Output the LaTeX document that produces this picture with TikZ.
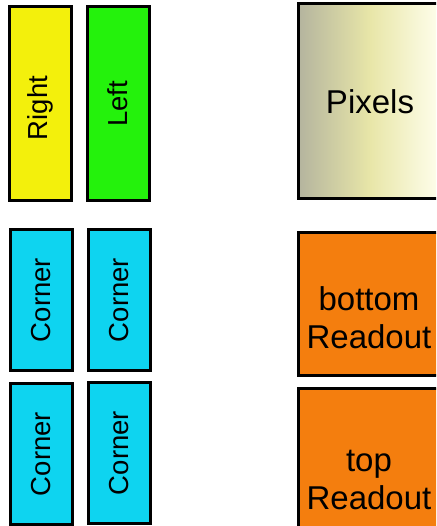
\documentclass[tikz,border=0pt]{standalone}
\usepackage{fontspec}
\setmainfont{Liberation Sans}
\usepackage{xcolor}
\usepackage{tikz}
\usetikzlibrary{positioning}

\definecolor{rightyellow}{RGB}{243,240,12}
\definecolor{leftgreen}{RGB}{36,242,12}
\definecolor{cornercyan}{RGB}{14,212,240}
\definecolor{readorange}{RGB}{244,126,14}
\definecolor{pixgray}{RGB}{180,180,158}
\definecolor{pixmid}{RGB}{232,230,168}
\definecolor{pixlight}{RGB}{255,255,238}

\begin{document}
\begin{tikzpicture}[
  x=1pt, y=-1pt,
  box/.style={rectangle, draw=black, line width=3pt, inner sep=0pt},
  strip/.style={box, minimum width=62pt, font=\fontsize{27.5}{32}\selectfont},
  side/.style={strip, minimum height=194pt},
  corner/.style={strip, fill=cornercyan, minimum height=141pt},
  wide/.style={box, minimum width=144pt, minimum height=143pt},
  big/.style={font=\fontsize{33}{38}\selectfont, align=center}
]
  \useasboundingbox (0,0) rectangle (436,526);
  \clip (0,0) rectangle (436,526);

  % left hand strips
  \node (right) [side, fill=rightyellow] at (40,104)  {\rotatebox{90}{Right\hspace{8pt}}};
  \node (left)  [side, fill=leftgreen]  at (118,104) {\rotatebox{90}{Left}};

  % corner blocks, two by two
  \node (c11) [corner] at (41,300)  {\rotatebox{90}{Corner}};
  \node (c12) [corner] at (119,300) {\rotatebox{90}{Corner}};
  \node (c21) [corner] at (41,454)  {\rotatebox{90}{Corner}};
  \node (c22) [corner] at (119,453) {\rotatebox{90}{Corner}};

  % pixel area and readouts (run off the right edge)
  \node (pix) [box, minimum width=144pt, minimum height=195pt,
               left color=pixgray, right color=pixlight, middle color=pixmid]
               at (370,101.5) {};
  \node (pixtxt) [big] at (pix.center) {Pixels};

  \node (bot) [wide, fill=readorange] at (370.5,304) {};
  \node (bottxt) [big] at (369,318) {bottom\\Readout};

  \node (top) [wide, fill=readorange, minimum height=150pt] at (370.5,463) {};
  \node (toptxt) [big] at (369,480) {top\\Readout};
\end{tikzpicture}
\end{document}
